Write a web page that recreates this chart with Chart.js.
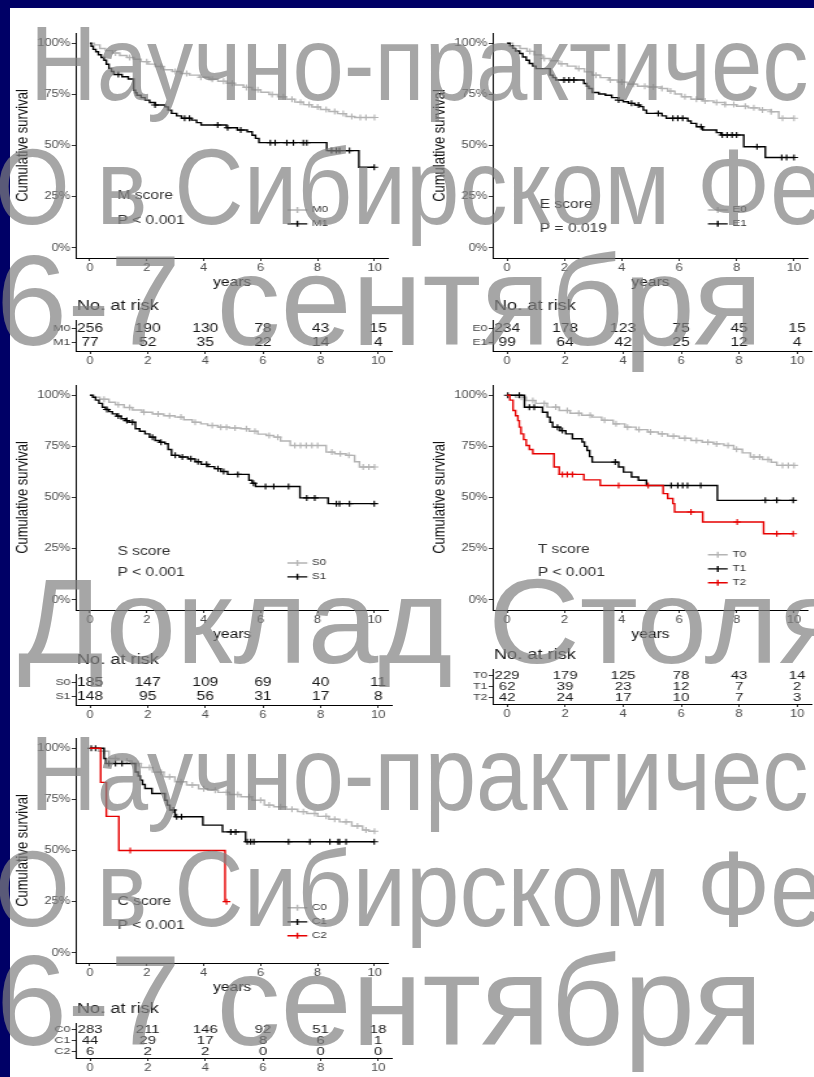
<!DOCTYPE html>
<html>
<head>
<meta charset="utf-8">
<script src="https://cdn.jsdelivr.net/npm/chart.js@4.4.1/dist/chart.umd.min.js"></script>
<style>
html, body { margin: 0; padding: 0; }
body { width: 814px; height: 1077px; background: #000066; position: relative; overflow: hidden;
       font-family: 'Liberation Sans', Arial, sans-serif; }
#sheet { position: absolute; left: 10px; top: 8px; right: 0; bottom: 0; background: #fff; }
.box { position: absolute; transform-origin: 0 0; }
.wm { position: absolute; white-space: nowrap; color: rgba(128,128,128,0.7); line-height: 1;
      transform-origin: 0 0; pointer-events: none; z-index: 5; }
</style>
</head>
<body>
<div id="sheet"></div>
<div id="charts"></div>
<div id="marks"></div>
<script>
// shared axes
const xTicks = [0, 2, 4, 6, 8, 10];
const yTicks = [0, 25, 50, 75, 100];
const yTickLabels = ['0%', '25%', '50%', '75%', '100%'];

// M score
const mNames = ['M0', 'M1'];
const m0Steps = [[0,100],[0.15,99.2],[0.35,97.4],[0.55,96.4],[0.8,95.2],[1.05,94],[1.3,93],[1.55,92.2],[1.8,91],[2.05,89.8],[2.3,88.6],[2.6,87],[2.9,86.2],[3.2,85.2],[3.5,84.4],[3.85,83.4],[4.2,82.4],[4.5,81.4],[4.8,80.4],[5.1,79.6],[5.4,78.4],[5.7,77.2],[6.0,76],[6.3,74.9],[6.6,73.8],[6.9,72.6],[7.2,71.2],[7.5,70],[7.8,68.8],[8.1,67.6],[8.4,66.6],[8.7,65.6],[9.0,64.2],[9.3,63.7]];
const m0Censor = [0.9,1.4,2.0,2.5,3.0,3.4,3.9,4.3,4.7,5.0,5.5,5.9,6.4,6.8,7.1,7.4,7.7,8.0,8.3,8.6,8.9,9.2,9.5,9.7,10.0];
const m1Steps = [[0,100],[0.05,98.5],[0.12,97],[0.21,95.8],[0.3,94.4],[0.4,93],[0.5,91.7],[0.58,89.7],[0.67,87.7],[0.76,86.2],[0.84,84.7],[1.13,83.6],[1.35,82.5],[1.54,77],[1.6,75.8],[1.65,74.6],[1.8,73.4],[1.94,72.2],[2.1,71],[2.29,69.8],[2.64,68.9],[2.75,67.3],[2.87,65.7],[3.05,64.5],[3.22,63.3],[3.57,62.4],[3.75,61.2],[3.91,60],[4.8,58.7],[5.18,57.6],[5.53,56.7],[5.7,55],[5.82,53.5],[5.94,51.4],[8.32,47.5],[9.45,39.4]];
const m1Censor = [1.0,2.29,3.33,3.5,4.49,4.84,5.3,6.34,6.51,6.92,7.15,7.5,7.62,8.49,8.66,8.77,9.12,9.99];
const mRisk = [[256,190,130,78,43,15],[77,52,35,22,14,4]];

// E score
const eNames = ['E0', 'E1'];
const e0Steps = [[0,100],[0.2,98.8],[0.45,97.4],[0.7,96],[0.95,94.3],[1.25,92.5],[1.5,91.4],[1.8,90],[2.1,88.8],[2.4,87.6],[2.7,86],[2.97,84.4],[3.25,83.2],[3.55,82],[3.85,81],[4.2,80],[4.55,79],[4.9,78.6],[5.39,77.9],[5.6,76.6],[5.85,75.2],[6.08,73.8],[6.41,72.6],[6.8,71.8],[7.2,71],[7.6,70],[8.0,69.2],[8.4,68.4],[8.8,67.4],[9.2,66.5],[9.47,63.3]];
const e0Censor = [0.8,1.3,1.9,2.5,3.1,3.6,4.0,4.4,4.8,5.1,5.4,5.7,6.2,6.6,6.9,7.3,7.6,7.9,8.3,8.6,8.9,9.2,9.6,10.0];
const e1Steps = [[0,100],[0.1,98.8],[0.2,97.5],[0.3,96.2],[0.44,95],[0.55,93.3],[0.67,91.7],[0.78,90.1],[0.9,88.8],[1.01,87.6],[1.5,84.4],[1.6,83.2],[1.7,82],[2.68,80.3],[2.78,79],[2.85,77.9],[2.97,75.9],[3.2,75.2],[3.43,74.6],[3.65,73.4],[3.89,72.2],[4.05,71.4],[4.23,70.6],[4.45,69.8],[4.63,69],[4.75,67.3],[4.86,65.7],[5.4,64.5],[5.55,63.3],[6.3,62],[6.41,60.8],[6.6,59.2],[6.82,57.6],[7.3,56.3],[7.45,55.1],[8.25,49.4],[9.0,44.1]];
const e1Censor = [1.99,2.16,2.33,3.89,4.34,4.58,5.27,5.78,5.95,6.12,6.76,7.5,7.67,7.84,8.0,8.71,9.57,9.74,10.0];
const eRisk = [[234,178,123,75,45,15],[99,64,42,25,12,4]];

// S score
const sNames = ['S0', 'S1'];
const s0Steps = [[0,100],[0.15,99],[0.35,98],[0.67,96.6],[0.9,95.4],[1.2,94],[1.5,92.8],[1.83,91.7],[2.2,90.8],[2.6,90],[2.99,89.3],[3.3,88],[3.6,86.8],[3.9,86],[4.14,85.2],[4.5,84.4],[4.9,84],[5.3,83.6],[5.6,82.4],[5.9,81],[6.2,80.3],[6.46,79.5],[6.7,77.6],[7.04,75.4],[8.3,72.2],[8.6,71.4],[9.0,70.6],[9.3,67.5],[9.47,64.9]];
const s0Censor = [0.5,1.0,1.4,1.9,2.4,2.8,3.2,3.7,4.3,4.6,4.8,5.1,5.5,5.8,6.3,6.6,7.2,7.4,7.6,7.8,8.0,8.5,8.8,9.1,9.6,9.8,10.0];
const s1Steps = [[0,100],[0.1,99],[0.2,97.6],[0.32,96],[0.44,94.1],[0.55,93],[0.67,92],[0.79,90.9],[0.95,89.8],[1.1,88.5],[1.25,87.6],[1.37,86.8],[1.6,83.6],[1.75,82.4],[1.94,81.1],[2.1,79.5],[2.29,77.9],[2.45,77],[2.64,76.3],[2.75,73.5],[2.87,70.6],[3.15,69.8],[3.45,68.9],[3.7,67.5],[3.91,66.2],[4.15,65.1],[4.38,64.1],[4.6,62.7],[4.84,61.3],[5.59,58.4],[5.7,57],[5.82,55.4],[7.38,49.8],[8.37,47]];
const s1Censor = [0.6,1.0,1.3,1.5,2.2,2.5,3.0,3.25,3.55,3.8,4.1,4.5,4.7,5.2,5.75,6.17,6.46,6.98,7.62,7.9,8.66,8.77,9.12,9.99];
const sRisk = [[185,147,109,69,40,11],[148,95,56,31,17,8]];

// T score
const tNames = ['T0', 'T1', 'T2'];
const t0Steps = [[0,100],[0.3,99],[0.67,97.4],[1.0,96],[1.4,94.2],[1.82,92.5],[2.2,91.2],[2.6,90.2],[2.97,89.3],[3.3,87.8],[3.7,86],[4.11,84.4],[4.5,83.2],[4.9,82],[5.27,81.1],[5.6,80],[6.0,79],[6.41,77.9],[6.8,77],[7.2,76.2],[7.56,75.4],[7.9,73.6],[8.2,71.8],[8.48,69.8],[8.9,68.6],[9.2,67.2],[9.4,65.7]];
const t0Censor = [0.5,0.9,1.3,1.7,2.1,2.5,2.9,3.4,3.8,4.2,4.6,5.0,5.4,5.8,6.2,6.6,7.0,7.3,7.7,8.0,8.6,8.8,9.1,9.6,9.8,10.0];
const t1Steps = [[0,100],[0.61,94.1],[1.24,91.7],[1.41,89.3],[1.5,86.8],[1.59,84.4],[1.85,82.7],[2.05,81.1],[2.28,78.7],[2.62,77.1],[2.7,75],[2.79,73],[2.88,70],[2.97,67.3],[3.89,64.9],[4.06,62.4],[4.34,60],[4.58,58.4],[4.86,55.9],[7.33,48.6]];
const t1Censor = [0.03,0.43,0.78,0.95,1.76,1.93,3.77,5.72,5.95,6.12,6.29,6.75,9.0,9.4,9.97];
const t2Steps = [[0,100],[0.1,97.6],[0.21,92.5],[0.3,90],[0.38,87.6],[0.43,84.4],[0.49,81.1],[0.58,78.3],[0.67,75.4],[0.78,73.5],[0.9,71.4],[1.64,64.9],[1.82,61.3],[2.68,58.6],[3.25,55.9],[5.44,51.9],[5.6,49.5],[5.78,47],[5.84,42.9],[6.82,38],[8.94,32.3]];
const t2Censor = [1.93,2.1,2.28,3.89,4.92,6.41,8.02,9.4,9.97];
const tRisk = [[229,179,125,78,43,14],[62,39,23,12,7,2],[42,24,17,10,7,3]];

// C score
const cNames = ['C0', 'C1', 'C2'];
const c0Steps = [[0,100],[0.3,98.5],[0.67,95],[1.0,93.8],[1.48,92.5],[1.8,90.6],[2.2,88.3],[2.6,86],[2.99,83.6],[3.4,82],[3.82,80.2],[4.14,79.5],[4.5,78.4],[4.9,77.4],[5.3,76.3],[5.7,74.6],[6.13,72.2],[6.46,71.4],[6.9,70.2],[7.3,69],[7.62,68.1],[8.0,66.7],[8.4,65.3],[8.77,64],[9.2,62],[9.58,60],[9.8,59.4]];
const c0Censor = [0.5,0.9,1.3,1.7,2.1,2.5,2.8,3.2,3.6,4.0,4.4,4.8,5.2,5.6,6.0,6.3,6.7,7.1,7.5,7.9,8.3,8.6,9.0,9.4,9.7,10.0];
const c1Steps = [[0,100],[0.5,95],[0.56,92.5],[1.6,88.4],[1.7,86.4],[1.77,84.4],[1.85,82.3],[1.94,80.3],[2.18,77.9],[2.64,74.6],[2.72,72.2],[2.81,69.8],[2.99,66.5],[3.97,62.4],[4.66,59.1],[5.47,54.3]];
const c1Censor = [0.05,0.2,0.67,0.9,1.13,2.93,3.05,3.22,4.95,5.12,5.53,5.65,5.76,6.98,7.73,8.43,8.72,8.77,9.0,9.99];
const c2Steps = [[0,100],[0.38,83.3],[0.58,66.7],[1.02,50],[4.75,25]];
const c2Censor = [1.42,4.8];
const cRisk = [[283,211,146,92,51,18],[44,29,17,8,6,1],[6,2,2,0,0,0]];

const GREY = '#b4b4b4', BLACK = '#000000', RED = '#e60000';
const FONT = "'Liberation Sans', Arial, sans-serif";
const K = 1.3; // the figure is stretched horizontally
Chart.defaults.font.family = FONT;

function survAt(steps, t) {
    let s = 100;
    steps.forEach(p => { if (p[0] <= t) s = p[1]; });
    return s;
}

function stepLine(steps, censor) {
    const pts = steps.map(p => ({x: p[0], y: p[1]}));
    const end = Math.max(steps[steps.length - 1][0], ...censor);
    pts.push({x: end, y: steps[steps.length - 1][1]});
    return pts;
}

function addBox(left, top, w, h) {
    const div = document.createElement('div');
    div.className = 'box';
    div.style.left = left + 'px';
    div.style.top = top + 'px';
    div.style.width = w + 'px';
    div.style.height = h + 'px';
    div.style.transform = 'scaleX(' + K + ')';
    const cv = document.createElement('canvas');
    cv.width = w;
    cv.height = h;
    div.appendChild(cv);
    document.getElementById('charts').appendChild(div);
    return cv;
}

function axis(extra) {
    return Object.assign({
        type: 'linear',
        grid: {display: true, drawOnChartArea: false, drawTicks: true, tickLength: 3, color: '#333', lineWidth: 1},
        border: {display: true, color: '#000', width: 1}
    }, extra);
}

function textPlugin(p) {
    return {
        id: 'panelText',
        afterDatasetsDraw(chart) {
            const {ctx} = chart;
            const x = chart.scales.x, y = chart.scales.y;
            ctx.save();
            ctx.textBaseline = 'middle';
            ctx.textAlign = 'left';
            ctx.fillStyle = '#333';
            ctx.font = '12px ' + FONT;
            ctx.fillText(p.title, x.getPixelForValue(p.tx), y.getPixelForValue(p.ty[0]));
            ctx.fillText(p.pval, x.getPixelForValue(p.tx), y.getPixelForValue(p.ty[1]));
            ctx.font = '9px ' + FONT;
            p.names.forEach((n, i) => {
                const yy = y.getPixelForValue(p.ly[i]);
                const x0 = x.getPixelForValue(p.lx[0]), x1 = x.getPixelForValue(p.lx[1]);
                const xm = (x0 + x1) / 2;
                ctx.strokeStyle = p.colors[i];
                ctx.lineWidth = 1.4;
                ctx.beginPath();
                ctx.moveTo(x0, yy); ctx.lineTo(x1, yy);
                ctx.moveTo(xm, yy - 3); ctx.lineTo(xm, yy + 3);
                ctx.stroke();
                ctx.fillStyle = '#333';
                ctx.fillText(n, x.getPixelForValue(p.lx[2]), yy);
            });
            ctx.restore();
        }
    };
}

function survChart(p) {
    const Wy = 52, padTop = 10, xH = 36;
    const innerW = (p.box.R - p.box.L) / K;
    const w = Math.ceil(Wy + innerW + 2);
    const padR = w - Wy - innerW;
    const h = Math.round(p.box.B - p.box.T + padTop + xH);
    const cv = addBox(p.box.L - Wy * K, p.box.T - padTop, w, h);
    const datasets = [];
    p.curves.forEach((c, i) => {
        // horizontal first, then the drop at the event time
        datasets.push({data: stepLine(c.steps, c.censor), stepped: 'before', borderColor: p.colors[i],
            borderWidth: 1.4, pointRadius: 0, fill: false, order: -i});
        datasets.push({data: c.censor.map(t => ({x: t, y: survAt(c.steps, t)})), showLine: false,
            pointStyle: 'cross', pointRadius: 3, borderColor: p.colors[i], borderWidth: 1.1, order: -i});
    });
    new Chart(cv, {
        type: 'line',
        data: {datasets},
        options: {
            responsive: false, animation: false, devicePixelRatio: 1,
            layout: {padding: {top: padTop, right: padR, left: 0, bottom: 0}},
            plugins: {legend: {display: false}, tooltip: {enabled: false}},
            scales: {
                x: axis({
                    min: -0.5, max: 10.5,
                    afterBuildTicks: s => { s.ticks = xTicks.map(v => ({value: v})); },
                    afterFit: s => { s.height = xH; },
                    ticks: {color: '#4d4d4d', font: {size: 10}, padding: 1, autoSkip: false, maxRotation: 0},
                    title: {display: true, text: 'years', color: '#111', font: {size: 12}, padding: {top: 0, bottom: 4}}
                }),
                y: axis({
                    min: -5, max: 105,
                    afterBuildTicks: s => { s.ticks = yTicks.map(v => ({value: v})); },
                    afterFit: s => { s.width = Wy; },
                    ticks: {color: '#4d4d4d', font: {size: 10}, padding: 1, autoSkip: false,
                        callback: (v, i) => yTickLabels[i]},
                    title: {display: true, text: 'Cumulative survival', color: '#111', font: {size: 13}, padding: {top: 4, bottom: 0}}
                })
            }
        },
        plugins: [textPlugin(p)]
    });
}

function riskPlugin(p) {
    return {
        id: 'riskText',
        afterDraw(chart) {
            const {ctx, chartArea} = chart;
            const x = chart.scales.x, y = chart.scales.y;
            ctx.save();
            ctx.fillStyle = '#1a1a1a';
            ctx.textBaseline = 'middle';
            ctx.textAlign = 'left';
            ctx.font = '14px ' + FONT;
            ctx.fillText('No. at risk', chartArea.left + 1, chartArea.top - 14);
            ctx.textAlign = 'center';
            ctx.font = (p.risk.length > 2 ? 11.5 : 12) + 'px ' + FONT;
            p.risk.forEach((row, i) => {
                row.forEach((v, j) => {
                    ctx.fillText(String(v), x.getPixelForValue(xTicks[j]), y.getPixelForValue(i + 1));
                });
            });
            ctx.restore();
        }
    };
}

function riskChart(p) {
    const Wy = 52, padTop = 28, xH = 20;
    const n = p.names.length;
    const innerW = (p.box.R - p.box.L) / K;
    const w = Math.ceil(Wy + innerW + 2);
    const padR = w - Wy - innerW;
    const T = p.row0 - 0.6 * p.rowGap;
    const B = p.row0 + (n - 1 + 0.6) * p.rowGap;
    const h = Math.round(B - T + padTop + xH);
    const cv = addBox(p.box.L - Wy * K, T - padTop, w, h);
    new Chart(cv, {
        type: 'line',
        data: {datasets: []},
        options: {
            responsive: false, animation: false, devicePixelRatio: 1,
            layout: {padding: {top: padTop, right: padR, left: 0, bottom: 0}},
            plugins: {legend: {display: false}, tooltip: {enabled: false}},
            scales: {
                x: axis({
                    min: -0.5, max: 10.5,
                    afterBuildTicks: s => { s.ticks = xTicks.map(v => ({value: v})); },
                    afterFit: s => { s.height = xH; },
                    ticks: {color: '#4d4d4d', font: {size: 10}, padding: 1, autoSkip: false, maxRotation: 0}
                }),
                y: axis({
                    reverse: true, min: 0.4, max: n + 0.6,
                    afterBuildTicks: s => { s.ticks = p.names.map((nm, i) => ({value: i + 1})); },
                    afterFit: s => { s.width = Wy; },
                    ticks: {color: '#444', font: {size: 9.5}, padding: 1, autoSkip: false,
                        callback: (v, i) => p.names[i]}
                })
            }
        },
        plugins: [riskPlugin(p)]
    });
}

const panels = [
    {box: {L: 76, T: 33, R: 393, B: 258}, row0: 328, rowGap: 14,
     names: mNames, colors: [GREY, BLACK], risk: mRisk,
     curves: [{steps: m0Steps, censor: m0Censor}, {steps: m1Steps, censor: m1Censor}],
     title: 'M score', pval: 'P < 0.001', tx: 0.97, ty: [25.4, 13.2], lx: [6.94, 7.64, 7.8], ly: [18.5, 11.7]},
    {box: {L: 492.5, T: 33, R: 811.5, B: 258}, row0: 328, rowGap: 14,
     names: eNames, colors: [GREY, BLACK], risk: eRisk,
     curves: [{steps: e0Steps, censor: e0Censor}, {steps: e1Steps, censor: e1Censor}],
     title: 'E score', pval: 'P = 0.019', tx: 1.14, ty: [21, 9.3], lx: [7.0, 7.69, 7.85], ly: [18.5, 11.7]},
    {box: {L: 76, T: 385, R: 393, B: 610}, row0: 682, rowGap: 14,
     names: sNames, colors: [GREY, BLACK], risk: sRisk,
     curves: [{steps: s0Steps, censor: s0Censor}, {steps: s1Steps, censor: s1Censor}],
     title: 'S score', pval: 'P < 0.001', tx: 0.97, ty: [23.4, 13.2], lx: [6.94, 7.64, 7.8], ly: [18, 11.2]},
    {box: {L: 492.5, T: 385, R: 811.5, B: 610}, row0: 676, rowGap: 11,
     names: tNames, colors: [GREY, BLACK, RED], risk: tRisk,
     curves: [{steps: t0Steps, censor: t0Censor}, {steps: t1Steps, censor: t1Censor}, {steps: t2Steps, censor: t2Censor}],
     title: 'T score', pval: 'P < 0.001', tx: 1.07, ty: [24.4, 13.2], lx: [7.0, 7.69, 7.85], ly: [22, 15.1, 8.3]},
    {box: {L: 76, T: 738, R: 393, B: 963}, row0: 1030, rowGap: 11,
     names: cNames, colors: [GREY, BLACK, RED], risk: cRisk,
     curves: [{steps: c0Steps, censor: c0Censor}, {steps: c1Steps, censor: c1Censor}, {steps: c2Steps, censor: c2Censor}],
     title: 'C score', pval: 'P < 0.001', tx: 0.97, ty: [24.9, 13.2], lx: [6.94, 7.64, 7.8], ly: [22, 15.1, 8.3]}
];

panels.forEach(p => { survChart(p); riskChart(p); });

// slide watermark laid over the figure
const watermark = [
    {text: 'Научно-практической', size: 105, left: 30, base: 100, sx: 0.88},
    {text: 'О в Сибирском Федеральном', size: 108, left: -5, base: 224, sx: 0.89},
    {text: '6-7 сентября', size: 128, left: -4, base: 345, sx: 1},
    {text: 'Доклад Столярова', size: 120, left: 18, base: 663, sx: 1.06},
    {text: 'Научно-практической', size: 105, left: 30, base: 810, sx: 0.88},
    {text: 'О в Сибирском Федеральном', size: 108, left: -5, base: 926, sx: 0.89},
    {text: '6-7 сентября', size: 128, left: -4, base: 1045, sx: 1}
];
const marks = document.getElementById('marks');
watermark.forEach(m => {
    const d = document.createElement('div');
    d.className = 'wm';
    d.textContent = m.text;
    d.style.fontSize = m.size + 'px';
    d.style.left = m.left + 'px';
    d.style.top = (m.base - 0.8465 * m.size) + 'px';
    d.style.transform = 'scaleX(' + m.sx + ')';
    marks.appendChild(d);
});
</script>
</body>
</html>
